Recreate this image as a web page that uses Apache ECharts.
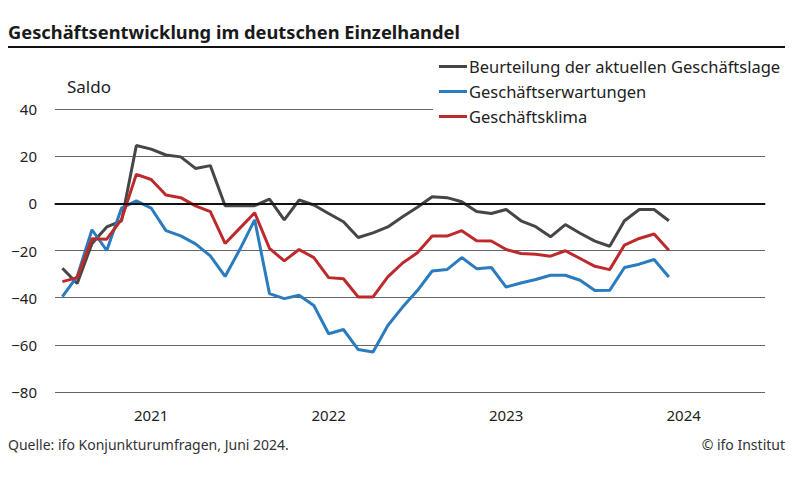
<!DOCTYPE html>
<html>
<head>
<meta charset="utf-8">
<script src="https://cdn.jsdelivr.net/npm/echarts@6/dist/echarts.min.js"></script>
<style>
  html, body { margin: 0; padding: 0; background: #fff; }
  #chart { width: 800px; height: 484px; }
</style>
</head>
<body>
<div id="chart"></div>
<script>
// Monatswerte Jan 2021 bis Jun 2024, Achse reicht bis Dez 2024
const years = ['2021', '2022', '2023', '2024'];
const months = [];
years.forEach(y => { for (let m = 1; m <= 12; m++) months.push(y + '-' + String(m).padStart(2, '0')); });

const lage = [
  -27.5, -34, -17, -10, -7.4, 24.5, 23, 20.5, 19.7, 14.8, 16, -1,
  -1, -1, 1.8, -7, 1.4, -0.7, -4.3, -7.8, -14.5, -12.5, -10, -5.7,
  -1.7, 2.8, 2.4, 0.7, -3.5, -4.3, -2.6, -7.4, -9.9, -14.2, -9, -12.7,
  -16, -18.2, -7.4, -2.6, -2.6, -7.4
];
const erwartungen = [
  -39.6, -31, -11.2, -20, -2, 1, -2, -11.6, -13.8, -17.2, -22.3, -31,
  -19.5, -7, -38.3, -40.4, -39, -43.3, -55.3, -53.5, -62, -63, -51.8, -44,
  -37, -28.7, -28.1, -23, -27.7, -27.2, -35.5, -33.8, -32.3, -30.5, -30.5, -32.6,
  -37, -36.9, -27.2, -25.8, -23.8, -31.2
];
const klima = [
  -33.2, -31.5, -15, -15.2, -6.8, 12.3, 10.1, 3.5, 2.4, -1.1, -3.5, -17,
  -10.5, -4, -19.1, -24.4, -19.6, -23, -31.5, -32, -39.7, -39.7, -31.2, -25.3,
  -21, -13.9, -13.9, -11.6, -15.9, -16, -19.6, -21.3, -21.6, -22.4, -20.1, -23.4,
  -26.7, -28.1, -17.7, -14.9, -13, -19.9
];

const seriesNames = ['Beurteilung der aktuellen Geschäftslage', 'Geschäftserwartungen', 'Geschäftsklima'];
const colors = ['#464646', '#2b7bbf', '#be2a2c'];

const font = '"Noto Sans", Lato, sans-serif';
const chart = echarts.init(document.getElementById('chart'), null, { renderer: 'svg' });

chart.setOption({
  animation: false,
  color: colors,
  textStyle: { fontFamily: font },
  title: {
    text: 'Geschäftsentwicklung im deutschen Einzelhandel',
    left: 3, top: 17,
    textStyle: { fontFamily: font, fontSize: 18.3, fontWeight: 'bold', color: '#1a1a1a' }
  },
  graphic: [
    { type: 'line', shape: { x1: 8, y1: 47, x2: 785, y2: 47 }, style: { stroke: '#111', lineWidth: 2 } },
    { type: 'text', left: 67, top: 78, style: { text: 'Saldo', font: '17px ' + font, fill: '#222' } },
    { type: 'text', left: 8, top: 437, style: { text: 'Quelle: ifo Konjunkturumfragen, Juni 2024.', font: '14px ' + font, fill: '#333' } },
    { type: 'text', right: 15, top: 437, style: { text: '© ifo Institut', font: '14px ' + font, fill: '#333' } }
  ],
  legend: {
    orient: 'vertical',
    left: 433, top: 54,
    z: 10,
    backgroundColor: '#fff',
    padding: [4, 8, 4, 6],
    itemWidth: 28, itemHeight: 3,
    itemGap: 8,
    icon: 'rect',
    textStyle: { fontSize: 16.5, color: '#222', lineHeight: 17, padding: [0, 0, 0, -3] },
    data: seriesNames
  },
  grid: { left: 55, right: 35, top: 109, bottom: 92 },
  xAxis: {
    type: 'category',
    data: months,
    boundaryGap: true,
    axisLine: { lineStyle: { color: '#555', width: 1.5 } },
    axisTick: { interval: idx => idx % 12 === 0, length: 5, lineStyle: { color: '#555', width: 1.5 } },
    axisLabel: {
      interval: idx => idx % 12 === 6,
      formatter: v => v.slice(0, 4),
      fontSize: 15, color: '#222', margin: 15
    },
    splitLine: { show: false }
  },
  yAxis: {
    type: 'value',
    min: -80, max: 40, interval: 20,
    axisLine: { show: false },
    axisTick: { show: false },
    axisLabel: { fontSize: 15, color: '#222', margin: 18, formatter: v => String(v).replace('-', '\u2212') },
    splitLine: { lineStyle: { color: '#666', width: 1 } }
  },
  series: [
    { name: seriesNames[0], type: 'line', data: lage, symbol: 'none', lineStyle: { width: 3 },
      markLine: { silent: true, symbol: 'none', label: { show: false }, lineStyle: { color: '#111', width: 2, type: 'solid' }, data: [{ yAxis: 0 }] } },
    { name: seriesNames[1], type: 'line', data: erwartungen, symbol: 'none', lineStyle: { width: 3 } },
    { name: seriesNames[2], type: 'line', data: klima, symbol: 'none', lineStyle: { width: 3 } }
  ]
});
</script>
</body>
</html>
